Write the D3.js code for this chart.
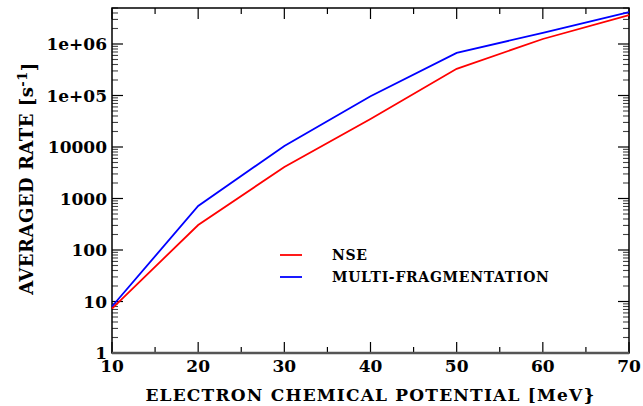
<!DOCTYPE html>
<html>
<head>
<meta charset="utf-8">
<script src="https://cdn.jsdelivr.net/npm/d3@7"></script>
<style>
  body { margin: 0; background: #fff; }
  text { font-family: "DejaVu Serif", serif; font-weight: bold; }
</style>
</head>
<body>
<div id="chart"></div>
<script>
var potential = [10, 20, 30, 40, 50, 60, 70];
var nse = [7.3, 305, 4100, 35000, 330000, 1250000, 3650000];
var multiFrag = [8, 715, 10500, 97000, 670000, 1650000, 4150000];
var yTickVals = [1, 10, 100, 1000, 10000, 1e5, 1e6];
var yTickLabels = ["1", "10", "100", "1000", "10000", "1e+05", "1e+06"];
var xTickVals = [10, 20, 30, 40, 50, 60, 70];

var margin = {top: 8, right: 14, bottom: 53, left: 112},
    width = 643 - margin.left - margin.right,
    height = 406 - margin.top - margin.bottom;

var svg = d3.select("#chart")
  .append("svg")
    .attr("width", 643)
    .attr("height", 406)
  .append("g")
    .attr("transform", "translate(" + margin.left + "," + margin.top + ")");

var x = d3.scaleLinear().domain([10, 70]).range([0, width]);
var y = d3.scaleLog().domain([1, 5e6]).range([height, 0]);

// minor ticks
var yMinor = [];
for (var e = 0; e < 7; e++) {
  for (var m = 2; m <= 9; m++) {
    var v = m * Math.pow(10, e);
    if (v <= 5e6) yMinor.push(v);
  }
}
var xMinor = [15, 25, 35, 45, 55, 65];

var tickCol = "#000";
var g = svg.append("g");
// left and right ticks
yTickVals.forEach(function(v) {
  g.append("line").attr("x1", 0).attr("x2", 11).attr("y1", y(v)).attr("y2", y(v))
    .attr("stroke", tickCol).attr("stroke-width", 1.2);
  g.append("line").attr("x1", width).attr("x2", width - 11).attr("y1", y(v)).attr("y2", y(v))
    .attr("stroke", tickCol).attr("stroke-width", 1.2);
});
yMinor.forEach(function(v) {
  g.append("line").attr("x1", 0).attr("x2", 6).attr("y1", y(v)).attr("y2", y(v))
    .attr("stroke", "#444").attr("stroke-width", 1.1);
  g.append("line").attr("x1", width).attr("x2", width - 6).attr("y1", y(v)).attr("y2", y(v))
    .attr("stroke", "#444").attr("stroke-width", 1.1);
});
xTickVals.forEach(function(v) {
  g.append("line").attr("x1", x(v)).attr("x2", x(v)).attr("y1", height).attr("y2", height - 11)
    .attr("stroke", tickCol).attr("stroke-width", 1.2);
  g.append("line").attr("x1", x(v)).attr("x2", x(v)).attr("y1", 0).attr("y2", 11)
    .attr("stroke", tickCol).attr("stroke-width", 1.2);
});
xMinor.forEach(function(v) {
  g.append("line").attr("x1", x(v)).attr("x2", x(v)).attr("y1", height).attr("y2", height - 6)
    .attr("stroke", tickCol).attr("stroke-width", 1.2);
  g.append("line").attr("x1", x(v)).attr("x2", x(v)).attr("y1", 0).attr("y2", 6)
    .attr("stroke", tickCol).attr("stroke-width", 1.2);
});

// frame
svg.append("rect")
  .attr("x", 0).attr("y", 0).attr("width", width).attr("height", height)
  .attr("fill", "none").attr("stroke", "#000").attr("stroke-width", 1.5);
svg.append("line").attr("x1", 0).attr("x2", width).attr("y1", height).attr("y2", height)
  .attr("stroke", "#555").attr("stroke-width", 2.5);

// tick labels
svg.selectAll(".ylab").data(yTickVals).enter().append("text")
  .attr("x", -5)
  .attr("y", function(d) { return y(d); })
  .attr("dy", "0.36em")
  .attr("text-anchor", "end")
  .style("font-size", "17px")
  .text(function(d, i) { return yTickLabels[i]; });

svg.selectAll(".xlab").data(xTickVals).enter().append("text")
  .attr("x", function(d) { return x(d); })
  .attr("y", height + 19)
  .attr("text-anchor", "middle")
  .style("font-size", "17px")
  .text(function(d) { return d; });

// axis titles
svg.append("text")
  .attr("x", width / 2 + 0)
  .attr("y", height + 48)
  .attr("text-anchor", "middle")
  .style("font-size", "17px")
  .style("letter-spacing", "1.2px")
  .text("ELECTRON CHEMICAL POTENTIAL [MeV}");

var yt = svg.append("text")
  .attr("transform", "translate(" + (-79) + "," + (height / 2 - 2) + ") rotate(-90)")
  .attr("text-anchor", "middle")
  .style("font-size", "18px")
  .style("letter-spacing", "0.5px");
yt.append("tspan").text("AVERAGED RATE [s");
yt.append("tspan").attr("dy", "-0.45em").style("font-size", "13px").text("-1");
yt.append("tspan").attr("dy", "0.45em").text("]");

// lines
var line = d3.line()
  .x(function(d) { return x(d[0]); })
  .y(function(d) { return y(d[1]); });

svg.append("path")
  .datum(potential.map(function(p, i) { return [p, multiFrag[i]]; }))
  .attr("fill", "none")
  .attr("stroke", "#0000ff")
  .attr("stroke-width", 1.8)
  .attr("d", line);

svg.append("path")
  .datum(potential.map(function(p, i) { return [p, nse[i]]; }))
  .attr("fill", "none")
  .attr("stroke", "#ff0000")
  .attr("stroke-width", 1.8)
  .attr("d", line);

// legend
var legend = [["NSE", "#ff0000"], ["MULTI-FRAGMENTATION", "#0000ff"]];
legend.forEach(function(l, i) {
  var ly = 247 + i * 22;
  svg.append("line")
    .attr("x1", 168).attr("x2", 190).attr("y1", ly).attr("y2", ly)
    .attr("stroke", l[1]).attr("stroke-width", 1.8);
  svg.append("text")
    .attr("x", 220).attr("y", ly + 5)
    .style("font-size", "14px")
    .style("letter-spacing", "0.7px")
    .text(l[0]);
});
</script>
</body>
</html>
